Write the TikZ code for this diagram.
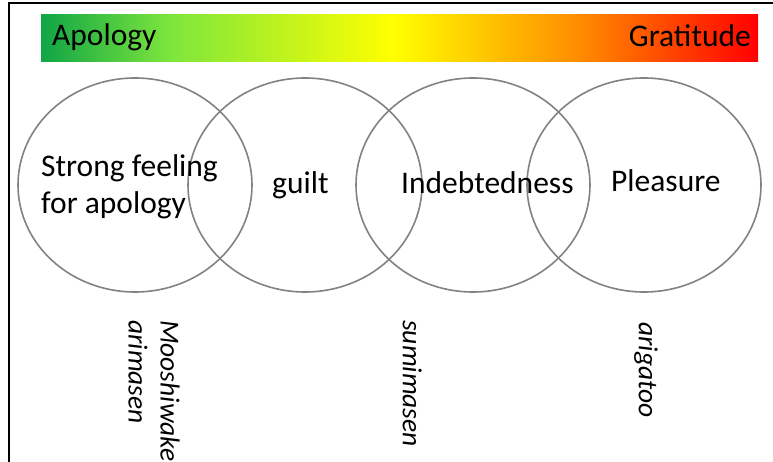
\documentclass[tikz,border=0pt]{standalone}
\usepackage{fontspec}
\setmainfont{Carlito}
\usetikzlibrary{shapes.geometric}
% colour scale from apology to gratitude
\definecolor{gA}{RGB}{16,165,70}
\definecolor{gB}{RGB}{125,230,60}
\definecolor{gY}{RGB}{255,255,0}
\definecolor{gO}{RGB}{255,140,0}
\definecolor{gR}{RGB}{255,0,0}
\definecolor{ringgray}{RGB}{130,130,130}
\pgfdeclarehorizontalshading{moodbar}{100bp}{color(0bp)=(gA); color(25bp)=(gA); color(34bp)=(gB); color(49.5bp)=(gY); color(62.5bp)=(gO); color(75bp)=(gR); color(100bp)=(gR)}

\begin{document}
\begin{tikzpicture}[x=1pt,y=-1pt,
  ring/.style={draw=ringgray, line width=1.6pt, ellipse, minimum width=234pt, minimum height=214pt, inner sep=0pt},
  word/.style={font=\fontsize{31.5}{37.5}\selectfont, inner sep=0pt, text=black},
  romaji/.style={font=\fontsize{27.5}{32}\selectfont\itshape, inner sep=0pt, rotate=-90, align=left, anchor=north west}]
\useasboundingbox (0,0) rectangle (773,462);

% frame edges
\coordinate (fb) at (8.5,462);
\coordinate (fc) at (8.5,3.5);
\coordinate (fr) at (773,3.5);
\draw[line width=2pt] (fb) -- (fc) -- (fr);

% gradient scale
\node[shade, shading=moodbar, minimum width=717pt, minimum height=47pt, inner sep=0pt, anchor=north west] (bar) at (41,14) {};
\node[word, anchor=base west] (apo) at (52,46) {Apology};
\node[word, anchor=base east] (gra) at (751,47) {Gratitude};

% overlapping rings
\node[ring] (r1) at (135,185) {};
\node[ring] (r2) at (305,185) {};
\node[ring] (r3) at (473,185) {};
\node[ring] (r4) at (644,185) {};

% feelings
\node[word, align=left, anchor=north west] (strong) at (41,154) {Strong feeling\\for apology};
\node[word, anchor=base west] (guilt) at (272,194) {guilt};
\node[word, anchor=base west] (indebt) at (401,194) {Indebtedness};
\node[word, anchor=base west] (pleas) at (611,192) {Pleasure};

% expressions
\node[romaji] (moo) at (180,320) {Mooshiwake\\arimasen};
\node[romaji] (sumi) at (422,320) {sumimasen};
\node[romaji] (ari) at (658,322) {arigatoo};
\end{tikzpicture}
\end{document}
